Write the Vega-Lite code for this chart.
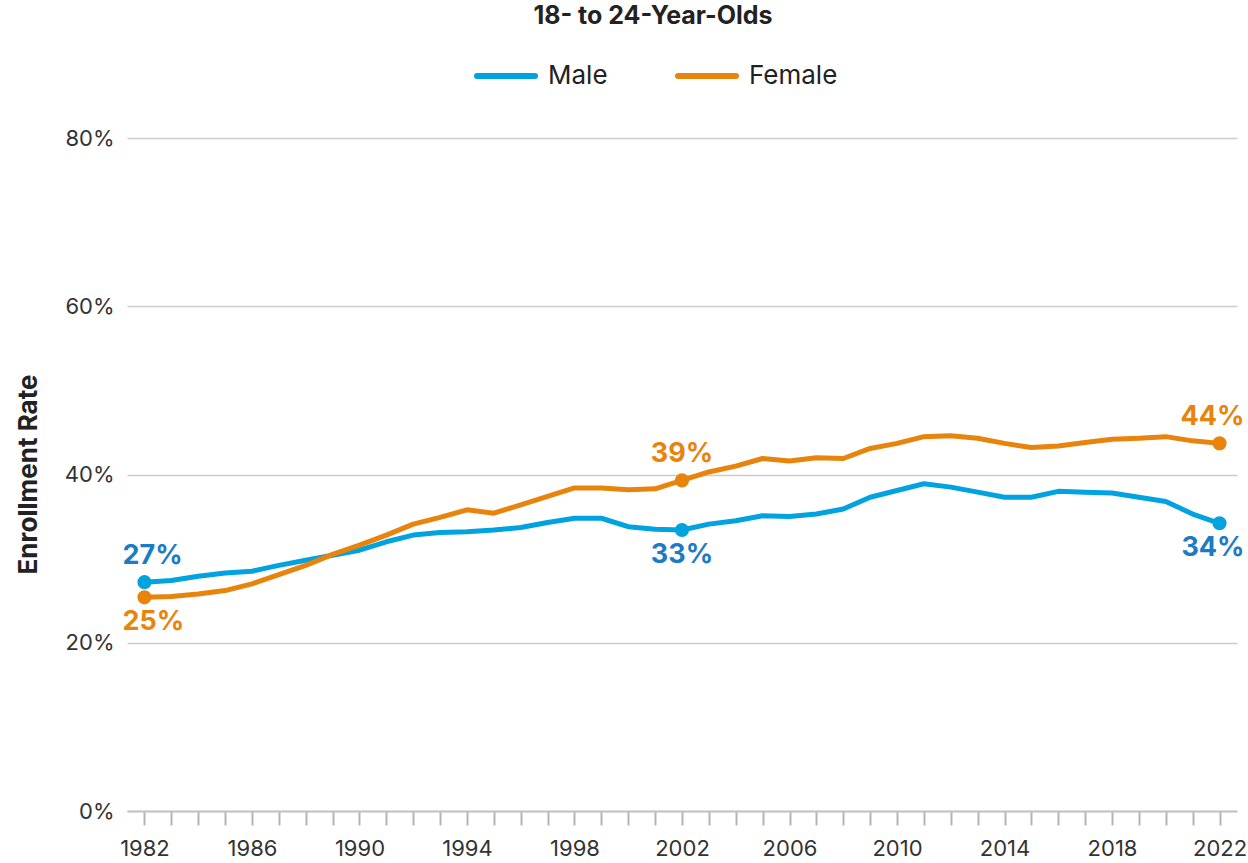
{
  "$schema": "https://vega.github.io/schema/vega-lite/v6.json",
  "width": 1110,
  "height": 673,
  "autosize": {"type": "none"},
  "padding": {"left": 127, "top": 138, "right": 11, "bottom": 52},
  "background": "white",
  "config": {"font": "Inter", "view": {"stroke": null}},
  "title": {"text": "18- to 24-Year-Olds", "fontSize": 25, "fontWeight": "bold", "color": "#222222", "anchor": "middle", "frame": "group", "dx": -29, "dy": 19, "offset": 9, "baseline": "bottom"},
  "data": {"values": [
    {"year": 1982, "series": "Male", "value": 0.272},
    {"year": 1983, "series": "Male", "value": 0.274},
    {"year": 1984, "series": "Male", "value": 0.279},
    {"year": 1985, "series": "Male", "value": 0.283},
    {"year": 1986, "series": "Male", "value": 0.285},
    {"year": 1987, "series": "Male", "value": 0.292},
    {"year": 1988, "series": "Male", "value": 0.298},
    {"year": 1989, "series": "Male", "value": 0.304},
    {"year": 1990, "series": "Male", "value": 0.310},
    {"year": 1991, "series": "Male", "value": 0.320},
    {"year": 1992, "series": "Male", "value": 0.328},
    {"year": 1993, "series": "Male", "value": 0.331},
    {"year": 1994, "series": "Male", "value": 0.332},
    {"year": 1995, "series": "Male", "value": 0.334},
    {"year": 1996, "series": "Male", "value": 0.337},
    {"year": 1997, "series": "Male", "value": 0.343},
    {"year": 1998, "series": "Male", "value": 0.348},
    {"year": 1999, "series": "Male", "value": 0.348},
    {"year": 2000, "series": "Male", "value": 0.338},
    {"year": 2001, "series": "Male", "value": 0.335},
    {"year": 2002, "series": "Male", "value": 0.334},
    {"year": 2003, "series": "Male", "value": 0.341},
    {"year": 2004, "series": "Male", "value": 0.345},
    {"year": 2005, "series": "Male", "value": 0.351},
    {"year": 2006, "series": "Male", "value": 0.350},
    {"year": 2007, "series": "Male", "value": 0.353},
    {"year": 2008, "series": "Male", "value": 0.359},
    {"year": 2009, "series": "Male", "value": 0.373},
    {"year": 2010, "series": "Male", "value": 0.381},
    {"year": 2011, "series": "Male", "value": 0.389},
    {"year": 2012, "series": "Male", "value": 0.385},
    {"year": 2013, "series": "Male", "value": 0.379},
    {"year": 2014, "series": "Male", "value": 0.373},
    {"year": 2015, "series": "Male", "value": 0.373},
    {"year": 2016, "series": "Male", "value": 0.380},
    {"year": 2017, "series": "Male", "value": 0.379},
    {"year": 2018, "series": "Male", "value": 0.378},
    {"year": 2019, "series": "Male", "value": 0.373},
    {"year": 2020, "series": "Male", "value": 0.368},
    {"year": 2021, "series": "Male", "value": 0.353},
    {"year": 2022, "series": "Male", "value": 0.342},
    {"year": 1982, "series": "Female", "value": 0.254},
    {"year": 1983, "series": "Female", "value": 0.255},
    {"year": 1984, "series": "Female", "value": 0.258},
    {"year": 1985, "series": "Female", "value": 0.262},
    {"year": 1986, "series": "Female", "value": 0.270},
    {"year": 1987, "series": "Female", "value": 0.281},
    {"year": 1988, "series": "Female", "value": 0.292},
    {"year": 1989, "series": "Female", "value": 0.305},
    {"year": 1990, "series": "Female", "value": 0.316},
    {"year": 1991, "series": "Female", "value": 0.328},
    {"year": 1992, "series": "Female", "value": 0.341},
    {"year": 1993, "series": "Female", "value": 0.349},
    {"year": 1994, "series": "Female", "value": 0.358},
    {"year": 1995, "series": "Female", "value": 0.354},
    {"year": 1996, "series": "Female", "value": 0.364},
    {"year": 1997, "series": "Female", "value": 0.374},
    {"year": 1998, "series": "Female", "value": 0.384},
    {"year": 1999, "series": "Female", "value": 0.384},
    {"year": 2000, "series": "Female", "value": 0.382},
    {"year": 2001, "series": "Female", "value": 0.383},
    {"year": 2002, "series": "Female", "value": 0.393},
    {"year": 2003, "series": "Female", "value": 0.403},
    {"year": 2004, "series": "Female", "value": 0.410},
    {"year": 2005, "series": "Female", "value": 0.419},
    {"year": 2006, "series": "Female", "value": 0.416},
    {"year": 2007, "series": "Female", "value": 0.420},
    {"year": 2008, "series": "Female", "value": 0.419},
    {"year": 2009, "series": "Female", "value": 0.431},
    {"year": 2010, "series": "Female", "value": 0.437},
    {"year": 2011, "series": "Female", "value": 0.445},
    {"year": 2012, "series": "Female", "value": 0.446},
    {"year": 2013, "series": "Female", "value": 0.443},
    {"year": 2014, "series": "Female", "value": 0.437},
    {"year": 2015, "series": "Female", "value": 0.432},
    {"year": 2016, "series": "Female", "value": 0.434},
    {"year": 2017, "series": "Female", "value": 0.438},
    {"year": 2018, "series": "Female", "value": 0.442},
    {"year": 2019, "series": "Female", "value": 0.443},
    {"year": 2020, "series": "Female", "value": 0.445},
    {"year": 2021, "series": "Female", "value": 0.440},
    {"year": 2022, "series": "Female", "value": 0.437}
  ]},
  "encoding": {
    "x": {
      "field": "year", "type": "quantitative",
      "scale": {"domain": [1981.35, 2022.65], "nice": false, "zero": false},
      "axis": {
        "title": null,
        "values": [1982,1983,1984,1985,1986,1987,1988,1989,1990,1991,1992,1993,1994,1995,1996,1997,1998,1999,2000,2001,2002,2003,2004,2005,2006,2007,2008,2009,2010,2011,2012,2013,2014,2015,2016,2017,2018,2019,2020,2021,2022],
        "format": "d",
        "labelExpr": "(datum.value - 1982) % 4 == 0 ? datum.label : ''",
        "labelOverlap": false,
        "labelFlush": false,
        "labelFontSize": 22,
        "labelColor": "#333333",
        "labelPadding": 13,
        "grid": false,
        "domain": true,
        "domainColor": "#c4c4c4",
        "domainWidth": 2,
        "ticks": true,
        "tickColor": "#b4b4b4",
        "tickWidth": 2,
        "tickSize": 14
      }
    },
    "y": {
      "field": "value", "type": "quantitative",
      "scale": {"domain": [0, 0.8], "nice": false},
      "axis": {
        "title": "Enrollment Rate",
        "titleFontSize": 26,
        "titleFontWeight": "bold",
        "titleColor": "#222222",
        "titleAngle": -90,
        "titleAlign": "center",
        "titleBaseline": "middle",
        "titleX": -99,
        "titleY": 336,
        "values": [0, 0.2, 0.4, 0.6, 0.8],
        "format": ".0%",
        "labelFontSize": 22,
        "labelColor": "#333333",
        "labelPadding": 13,
        "domain": false,
        "ticks": false,
        "grid": true,
        "gridColor": "#cccccc",
        "gridWidth": 1.5
      }
    },
    "color": {
      "field": "series", "type": "nominal",
      "scale": {"domain": ["Male", "Female"], "range": ["#00A3E0", "#E8830C"]},
      "legend": {
        "title": null,
        "orient": "none",
        "legendX": 347,
        "legendY": -94,
        "direction": "horizontal",
        "symbolType": "stroke",
        "symbolSize": 3364,
        "symbolStrokeWidth": 6,
        "labelFontSize": 26,
        "labelColor": "#222222",
        "labelOffset": 10,
        "columnPadding": 58,
        "encode": {"symbols": {"update": {"strokeCap": {"value": "round"}}}}
      }
    }
  },
  "layer": [
    {"mark": {"type": "line", "strokeWidth": 5, "strokeJoin": "round"}},
    {
      "transform": [{"filter": "datum.year == 1982 || datum.year == 2002 || datum.year == 2022"}],
      "mark": {"type": "point", "filled": true, "size": 200, "opacity": 1}
    },
    {
      "encoding": {
        "text": {"field": "value", "format": ".0%"},
        "color": {"condition": {"test": "datum.series == 'Male'", "value": "#1B7BC4"}, "value": "#E8830C"}
      },
      "layer": [
        {
          "transform": [{"filter": "datum.series == 'Male' && datum.year == 1982"}],
          "mark": {"type": "text", "fontSize": 27, "fontWeight": "bold", "baseline": "middle", "align": "left", "dx": -22, "dy": -26}
        },
        {
          "transform": [{"filter": "datum.series == 'Female' && datum.year == 1982"}],
          "mark": {"type": "text", "fontSize": 27, "fontWeight": "bold", "baseline": "middle", "align": "left", "dx": -22, "dy": 25}
        },
        {
          "transform": [{"filter": "datum.series == 'Female' && datum.year == 2002"}],
          "mark": {"type": "text", "fontSize": 27, "fontWeight": "bold", "baseline": "middle", "align": "center", "dy": -26}
        },
        {
          "transform": [{"filter": "datum.series == 'Male' && datum.year == 2002"}],
          "mark": {"type": "text", "fontSize": 27, "fontWeight": "bold", "baseline": "middle", "align": "center", "dy": 25}
        },
        {
          "transform": [{"filter": "datum.series == 'Female' && datum.year == 2022"}],
          "mark": {"type": "text", "fontSize": 27, "fontWeight": "bold", "baseline": "middle", "align": "right", "dx": 25, "dy": -26}
        },
        {
          "transform": [{"filter": "datum.series == 'Male' && datum.year == 2022"}],
          "mark": {"type": "text", "fontSize": 27, "fontWeight": "bold", "baseline": "middle", "align": "right", "dx": 25, "dy": 25}
        }
      ]
    }
  ]
}
